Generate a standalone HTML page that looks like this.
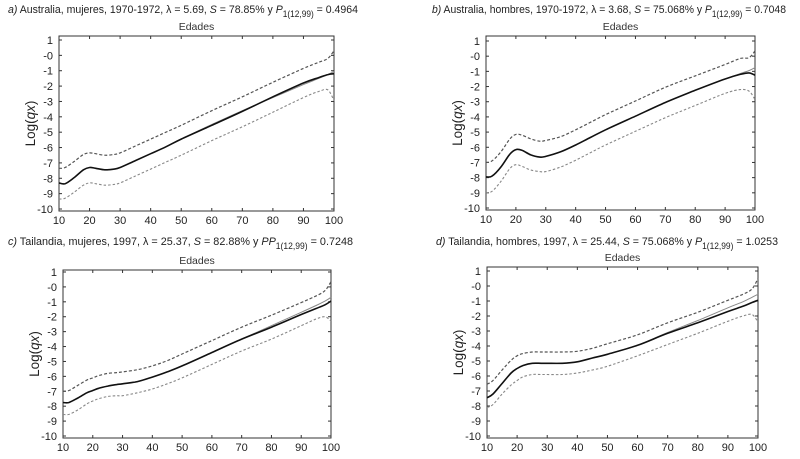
<!DOCTYPE html>
<html><head><meta charset="utf-8">
<style>
html,body{margin:0;padding:0;background:#fff;}
svg{display:block;font-family:"Liberation Sans",Arial,sans-serif;}
</style></head>
<body>
<svg id="fig" width="800" height="459" viewBox="0 0 800 459">
<g><text x="8" y="13" font-size="11.4" fill="#222" textLength="350" lengthAdjust="spacingAndGlyphs"><tspan font-style="italic">a)</tspan> Australia, mujeres, 1970-1972, λ = 5.69, <tspan font-style="italic">S</tspan> = 78.85% y <tspan font-style="italic">P</tspan><tspan font-size="9" dy="4">1(12,99)</tspan><tspan dy="-4"> = 0.4964</tspan></text></g>
<g><text x="432" y="13" font-size="11.4" fill="#222" textLength="354" lengthAdjust="spacingAndGlyphs"><tspan font-style="italic">b)</tspan> Australia, hombres, 1970-1972, λ = 3.68, <tspan font-style="italic">S</tspan> = 75.068% y <tspan font-style="italic">P</tspan><tspan font-size="9" dy="4">1(12,99)</tspan><tspan dy="-4"> = 0.7048</tspan></text></g>
<g><text x="8" y="245" font-size="11.4" fill="#222" textLength="345" lengthAdjust="spacingAndGlyphs"><tspan font-style="italic">c)</tspan> Tailandia, mujeres, 1997, λ = 25.37, <tspan font-style="italic">S</tspan> = 82.88% y <tspan font-style="italic">PP</tspan><tspan font-size="9" dy="4">1(12,99)</tspan><tspan dy="-4"> = 0.7248</tspan></text></g>
<g><text x="436" y="245" font-size="11.4" fill="#222" textLength="342" lengthAdjust="spacingAndGlyphs"><tspan font-style="italic">d)</tspan> Tailandia, hombres, 1997, λ = 25.44, <tspan font-style="italic">S</tspan> = 75.068% y <tspan font-style="italic">P</tspan><tspan font-size="9" dy="4">1(12,99)</tspan><tspan dy="-4"> = 1.0253</tspan></text></g>
</svg>
<script>
// ---- data ----
const ages = [10,12,15,18,20,22,25,28,30,35,40,45,50,60,70,80,90,95,98,100];
const fitA   = [-8.3,-8.35,-7.95,-7.45,-7.3,-7.35,-7.45,-7.4,-7.3,-6.85,-6.4,-5.95,-5.45,-4.55,-3.65,-2.7,-1.8,-1.45,-1.25,-1.2];
const grayA  = [-8.3,-8.35,-7.95,-7.45,-7.3,-7.35,-7.45,-7.4,-7.3,-6.85,-6.4,-5.95,-5.45,-4.5,-3.6,-2.75,-1.9,-1.5,-1.25,-1.05];
const upA    = [-7.35,-7.3,-6.9,-6.45,-6.35,-6.4,-6.5,-6.45,-6.35,-5.9,-5.45,-5.0,-4.55,-3.6,-2.7,-1.75,-0.85,-0.45,-0.2,0.3];
const lowA   = [-9.35,-9.3,-8.9,-8.45,-8.3,-8.35,-8.45,-8.4,-8.3,-7.85,-7.4,-6.95,-6.5,-5.55,-4.65,-3.7,-2.75,-2.35,-2.25,-2.95];
const fitB   = [-7.95,-7.9,-7.3,-6.45,-6.15,-6.2,-6.5,-6.65,-6.6,-6.3,-5.85,-5.35,-4.85,-3.95,-3.05,-2.25,-1.5,-1.2,-1.1,-1.25];
const grayB  = [-7.95,-7.9,-7.3,-6.45,-6.15,-6.2,-6.5,-6.65,-6.6,-6.3,-5.85,-5.35,-4.85,-3.95,-3.05,-2.25,-1.5,-1.15,-0.95,-0.75];
const upB    = [-7.0,-6.9,-6.3,-5.45,-5.15,-5.2,-5.45,-5.6,-5.55,-5.3,-4.85,-4.35,-3.85,-2.95,-2.05,-1.3,-0.55,-0.15,-0.1,0.35];
const lowB   = [-9.0,-8.9,-8.25,-7.4,-7.15,-7.25,-7.5,-7.6,-7.6,-7.3,-6.85,-6.35,-5.85,-4.95,-4.05,-3.25,-2.45,-2.2,-2.3,-2.85];
const fitC   = [-7.75,-7.75,-7.45,-7.1,-6.95,-6.8,-6.65,-6.55,-6.5,-6.35,-6.05,-5.7,-5.3,-4.4,-3.5,-2.7,-1.85,-1.45,-1.2,-0.95];
const grayC  = [-7.75,-7.75,-7.45,-7.1,-6.95,-6.8,-6.65,-6.55,-6.5,-6.35,-6.05,-5.7,-5.3,-4.4,-3.5,-2.6,-1.7,-1.25,-0.95,-0.7];
const upC    = [-7.0,-6.95,-6.6,-6.25,-6.1,-5.95,-5.8,-5.75,-5.7,-5.55,-5.3,-4.95,-4.5,-3.6,-2.7,-1.9,-1.05,-0.6,-0.25,0.35];
const lowC   = [-8.55,-8.55,-8.25,-7.85,-7.65,-7.5,-7.35,-7.3,-7.3,-7.1,-6.85,-6.5,-6.1,-5.2,-4.3,-3.5,-2.6,-2.15,-2.0,-2.3];
const fitD   = [-7.45,-7.2,-6.5,-5.8,-5.5,-5.3,-5.15,-5.15,-5.15,-5.15,-5.05,-4.8,-4.55,-3.95,-3.15,-2.45,-1.7,-1.35,-1.1,-0.95];
const grayD  = [-7.45,-7.2,-6.5,-5.8,-5.5,-5.3,-5.15,-5.15,-5.15,-5.15,-5.05,-4.8,-4.55,-3.95,-3.1,-2.3,-1.45,-1.05,-0.75,-0.55];
const upD    = [-6.55,-6.3,-5.6,-4.95,-4.65,-4.5,-4.4,-4.4,-4.4,-4.4,-4.35,-4.15,-3.85,-3.25,-2.45,-1.75,-0.95,-0.55,-0.2,0.5];
const lowD   = [-8.1,-7.9,-7.2,-6.6,-6.3,-6.05,-5.9,-5.9,-5.9,-5.9,-5.8,-5.6,-5.35,-4.65,-3.9,-3.15,-2.35,-2.0,-1.9,-2.4];
const xTicks = [10,20,30,40,50,60,70,80,90,100];
const yTicks = [1,0,-1,-2,-3,-4,-5,-6,-7,-8,-9,-10];
const yTickLabels = ["1","-0","-1","-2","-3","-4","-5","-6","-7","-8","-9","-10"];

const NS="http://www.w3.org/2000/svg";
const svg=document.getElementById('fig');
function mk(tag,attrs,parent){const e=document.createElementNS(NS,tag);for(const k in attrs)e.setAttribute(k,attrs[k]);(parent||svg).appendChild(e);return e;}

const panels=[
 {id:'a',L:59,R:334,T:36,B:211,y1:40,y10:209,fit:fitA,gray:grayA,up:upA,low:lowA},
 {id:'b',L:486,R:755,T:36,B:210,y1:41,y10:208,fit:fitB,gray:grayB,up:upB,low:lowB},
 {id:'c',L:63,R:331,T:270,B:438,y1:272,y10:436,fit:fitC,gray:grayC,up:upC,low:lowC},
 {id:'d',L:487,R:758,T:267,B:438,y1:271,y10:436,fit:fitD,gray:grayD,up:upD,low:lowD}
];

function path(xs,ys,sx,sy){
  const p=xs.map((x,i)=>[sx(x),sy(ys[i])]);
  let d='M'+p[0][0].toFixed(1)+','+p[0][1].toFixed(1);
  for(let i=0;i<p.length-1;i++){
    const p0=p[i-1]||p[i],p1=p[i],p2=p[i+1],p3=p[i+2]||p2;
    const c1=[p1[0]+(p2[0]-p0[0])/6,p1[1]+(p2[1]-p0[1])/6];
    const c2=[p2[0]-(p3[0]-p1[0])/6,p2[1]-(p3[1]-p1[1])/6];
    d+=' C'+c1[0].toFixed(1)+','+c1[1].toFixed(1)+' '+c2[0].toFixed(1)+','+c2[1].toFixed(1)+' '+p2[0].toFixed(1)+','+p2[1].toFixed(1);
  }
  return d;
}

panels.forEach(P=>{
  const g=mk('g',{});
  
  
  const sx=v=>P.L+(v-10)/90*(P.R-P.L);
  const sy=v=>P.y1+(1-v)/11*(P.y10-P.y1);
  const box=mk('rect',{x:P.L,y:P.T,width:P.R-P.L,height:P.B-P.T,fill:'none',stroke:'#333','stroke-width':1},g);
  
  
  const xt=mk('text',{x:(P.L+P.R)/2,y:P.T-6,'font-size':10.5,'text-anchor':'middle',fill:'#333'},g);
  xt.textContent='Edades';
  
  
  const cy=(P.T+P.B)/2;
  const yt=mk('text',{x:P.L-24,y:cy,'font-size':13.5,'text-anchor':'middle',fill:'#222',transform:'rotate(-90 '+(P.L-24)+' '+cy+')'},g);
  yt.innerHTML='Log(<tspan font-style="italic">qx</tspan>)';
  
  
  xTicks.forEach(t=>{
    const x=sx(t);
    mk('line',{x1:x,x2:x,y1:P.B,y2:P.B-3,stroke:'#333'},g);
    mk('line',{x1:x,x2:x,y1:P.T,y2:P.T+3,stroke:'#333'},g);
    const l=mk('text',{x:x,y:P.B+13,'font-size':11,'text-anchor':'middle',fill:'#222'},g);
    l.textContent=t;
    
    
  });
  yTicks.forEach((t,i)=>{
    const y=sy(t);
    mk('line',{x1:P.L,x2:P.L+3,y1:y,y2:y,stroke:'#333'},g);
    mk('line',{x1:P.R,x2:P.R-3,y1:y,y2:y,stroke:'#333'},g);
    const l=mk('text',{x:P.L-6,y:y+4,'font-size':11,'text-anchor':'end',fill:'#222'},g);
    l.textContent=yTickLabels[i];
    
    
  });
  const up=mk('path',{d:path(ages,P.up,sx,sy),fill:'none',stroke:'#555','stroke-width':1.2,'stroke-dasharray':'3,2'},g);
  
  
  const lo=mk('path',{d:path(ages,P.low,sx,sy),fill:'none',stroke:'#888','stroke-width':1.1,'stroke-dasharray':'2.5,2'},g);
  
  
  const gr=mk('path',{d:path(ages,P.gray,sx,sy),fill:'none',stroke:'#888','stroke-width':1},g);
  
  
  const ft=mk('path',{d:path(ages,P.fit,sx,sy),fill:'none',stroke:'#111','stroke-width':1.6},g);
  
  
});
</script>
</body></html>
